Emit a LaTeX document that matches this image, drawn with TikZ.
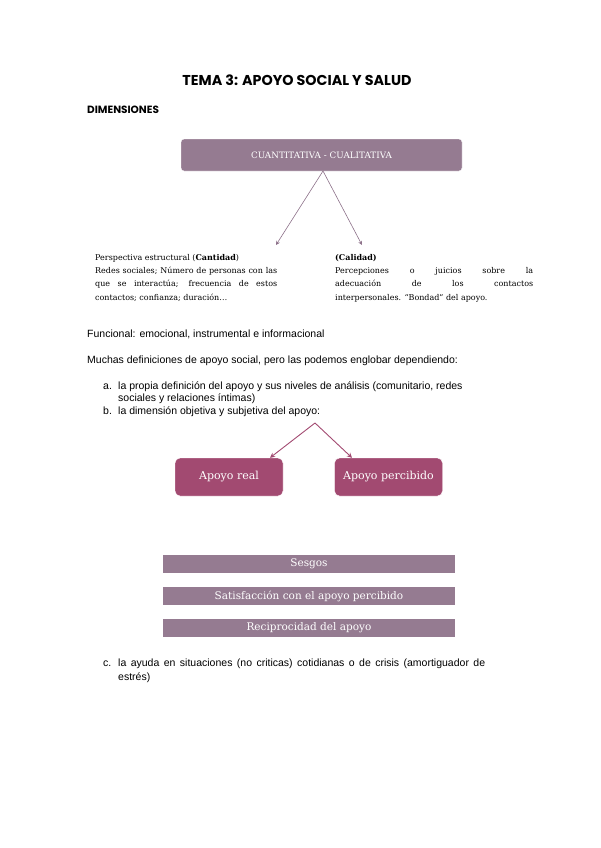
\documentclass[tikz,border=0pt]{standalone}
\usepackage{fontspec}
\setmainfont{Liberation Sans}
\newfontfamily\titlefont{Poppins}
\newfontfamily\slabfont{DejaVu Serif}
\usetikzlibrary{arrows.meta}
\definecolor{mauve}{HTML}{957B91}
\definecolor{mauveline}{HTML}{8C7089}
\definecolor{rasp}{HTML}{A24A71}
\tikzset{
  body/.style={anchor=base west, inner sep=0pt, font=\fontsize{10.5}{12}\selectfont},
  topbox/.style={draw=white, fill=mauve, rounded corners=3pt, minimum width=281pt, minimum height=32pt, text=white, font=\slabfont\fontsize{8.8}{10}\selectfont},
  pinkbox/.style={draw=white, fill=rasp, rounded corners=5pt, minimum width=108pt, minimum height=38pt, text=white, font=\slabfont\fontsize{11}{13}\selectfont},
  bar/.style={fill=mauve, minimum width=292pt, minimum height=18pt, text=white, font=\slabfont\fontsize{10.5}{12}\selectfont, inner sep=0pt},
  grayarrow/.style={draw=mauveline, line width=0.6pt, -{Stealth[length=4pt,width=4pt]}},
  rasparrow/.style={draw=rasp, line width=0.9pt, -{Stealth[length=5pt,width=5pt]}},
  blocktext/.style={anchor=north west, inner sep=0pt, align=left, font=\slabfont\fontsize{8}{13.3}\selectfont}
}
\begin{document}
\begin{tikzpicture}[x=1pt,y=-1pt]
\useasboundingbox (0,0) rectangle (600,848);
\node (title) at (297,80) {\titlefont\bfseries\fontsize{14.3}{16}\selectfont TEMA 3: APOYO SOCIAL Y SALUD};
\node[anchor=west, inner sep=0pt] (dim) at (87,110) {\titlefont\bfseries\fontsize{10.5}{12}\selectfont DIMENSIONES};
\node[topbox] (cc) at (321.5,155) {CUANTITATIVA - CUALITATIVA};
\coordinate (split) at (323,171);
\coordinate (lt) at (276,245);
\coordinate (rt) at (362,245);
\draw[grayarrow] (split) -- (lt);
\draw[grayarrow] (split) -- (rt);
\node[blocktext] (left) at (95,254) {%
Perspectiva estructural (\textbf{Cantidad})\\
\makebox[182pt][s]{Redes sociales; Número de personas con las}\\
\makebox[182pt][s]{que se interactúa; frecuencia de estos}\\
contactos; confianza; duración…};
\node[blocktext] (right) at (335,254) {%
\textbf{(Calidad)}\\
\makebox[198pt][s]{Percepciones o juicios sobre la}\\
\makebox[198pt][s]{adecuación de los contactos}\\
interpersonales. “Bondad” del apoyo.};
\node[body] (func) at (87,337) {Funcional: emocional, instrumental e informacional};
\node[body] (muchas) at (87,363) {Muchas definiciones de apoyo social, pero las podemos englobar dependiendo:};
\node[body] (la) at (103,389) {a.};
\node[body] (lat) at (118,389) {la propia definición del apoyo y sus niveles de análisis (comunitario, redes};
\node[body] (la2) at (118,401.5) {sociales y relaciones íntimas)};
\node[body] (lb) at (103,414) {b.};
\node[body] (lbt) at (118,414) {la dimensión objetiva y subjetiva del apoyo:};
\coordinate (apex) at (315,423);
\node[pinkbox] (real) at (229,477) {Apoyo real};
\node[pinkbox] (perc) at (388.5,477) {Apoyo percibido};
\draw[rasparrow] (apex) -- (real.north east -| 270,458);
\draw[rasparrow] (apex) -- (perc.north west -| 352,458);
\node[bar] (ses) at (309,564) {Sesgos};
\node[bar] (sat) at (309,596) {Satisfacción con el apoyo percibido};
\node[bar] (rec) at (309,628) {Reciprocidad del apoyo};
\node[body] (lc) at (103,666) {c.};
\node[body] (lct) at (118,666) {\makebox[367pt][s]{la ayuda en situaciones (no criticas) cotidianas o de crisis (amortiguador de}};
\node[body] (lc2) at (118,680) {estrés)};
\end{tikzpicture}
\end{document}
